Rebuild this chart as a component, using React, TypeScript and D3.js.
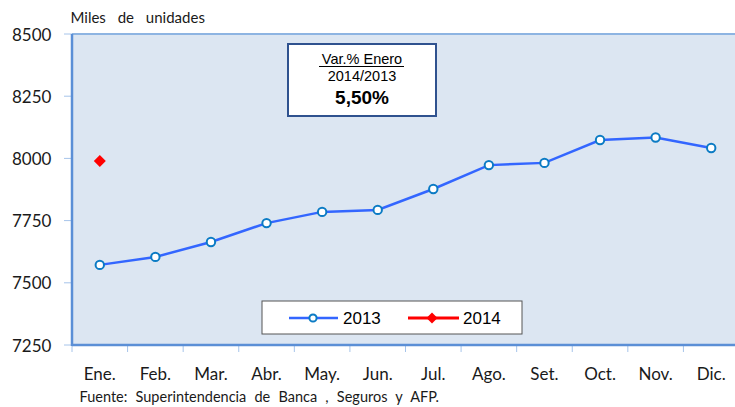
import React from "react";
import * as d3 from "d3";

const months = ["Ene.", "Feb.", "Mar.", "Abr.", "May.", "Jun.", "Jul.", "Ago.", "Set.", "Oct.", "Nov.", "Dic."];
const values2013 = [7572, 7604, 7664, 7740, 7785, 7793, 7877, 7973, 7982, 8074, 8084, 8042];
const values2014 = [7990];
const yTicks = [7250, 7500, 7750, 8000, 8250, 8500];

const W = 735;
const H = 407;
const plot = { left: 72, top: 34, right: 739, bottom: 345 };
const FONT = "Lato, 'Open Sans', sans-serif";
const ARIAL = "'Liberation Sans', Arial, sans-serif";

function Diamond({ x, y, r }: { x: number; y: number; r: number }) {
  return <path d={`M${x},${y - r}L${x + r},${y}L${x},${y + r}L${x - r},${y}Z`} fill="#ff0000" />;
}

export default function App() {
  const x = d3.scaleBand<string>().domain(months).range([plot.left, plot.right]);
  const y = d3.scaleLinear().domain([7250, 8500]).range([plot.bottom, plot.top]);
  const cx = (i: number) => (x(months[i]) as number) + x.bandwidth() / 2;
  const line = d3
    .line<number>()
    .x((_, i) => cx(i))
    .y((d) => y(d));

  return (
    <svg width={W} height={H} style={{ position: "absolute", left: 0, top: 0 }}>
      <rect x={0} y={0} width={W} height={H} fill="#ffffff" />
      <rect x={plot.left} y={plot.top} width={plot.right - plot.left} height={plot.bottom - plot.top} fill="#dce6f2" />
      <line x1={plot.left} x2={plot.right} y1={plot.top} y2={plot.top} stroke="#8db4e2" strokeWidth={2} />
      {yTicks.map((t) => (
        <g key={t}>
          <line x1={64} x2={plot.left} y1={y(t)} y2={y(t)} stroke="#a6c4ea" strokeWidth={1} />
          <text x={12} y={y(t) + 6.5} fontFamily={FONT} fontSize={17} fill="#1a1a1a">
            {t}
          </text>
        </g>
      ))}
      {months.map((m) => (
        <line key={m} x1={x(m)} x2={x(m)} y1={plot.bottom} y2={plot.bottom + 7} stroke="#a6c4ea" strokeWidth={1} />
      ))}
      <line x1={plot.left} x2={plot.left} y1={plot.top} y2={plot.bottom + 1} stroke="#5b8fd6" strokeWidth={2.5} />
      <line x1={plot.left} x2={plot.right} y1={plot.bottom} y2={plot.bottom} stroke="#5b8fd6" strokeWidth={2.5} />
      {months.map((m, i) => (
        <text key={m} x={cx(i)} y={380} textAnchor="middle" fontFamily={FONT} fontSize={17} fill="#1a1a1a">
          {m}
        </text>
      ))}
      <path d={line(values2013) as string} fill="none" stroke="#3366ff" strokeWidth={2.5} />
      {values2013.map((v, i) => (
        <circle key={i} cx={cx(i)} cy={y(v)} r={4.2} fill="#ffffff" stroke="#0b7bc4" strokeWidth={2} />
      ))}
      {values2014.map((v, i) => (
        <Diamond key={i} x={cx(i)} y={y(v)} r={6} />
      ))}
      {/* annotation box */}
      <rect x={288} y={44} width={148} height={72} fill="#ffffff" stroke="#2f528f" strokeWidth={2} />
      <text x={362} y={64} textAnchor="middle" fontFamily={ARIAL} fontSize={14.5} fill="#000">
        Var.% Enero
      </text>
      <line x1={319} x2={404} y1={66.5} y2={66.5} stroke="#000" strokeWidth={1} />
      <text x={362} y={80.5} textAnchor="middle" fontFamily={ARIAL} fontSize={14.5} fill="#000">
        2014/2013
      </text>
      <text x={362} y={103.5} textAnchor="middle" fontFamily={ARIAL} fontSize={19} fontWeight="bold" fill="#000">
        5,50%
      </text>
      {/* legend */}
      <rect x={262} y={301} width={260} height={33} fill="#ffffff" stroke="#555555" strokeWidth={1} />
      <line x1={289} x2={338} y1={318} y2={318} stroke="#3366ff" strokeWidth={2.5} />
      <circle cx={313} cy={318} r={3.6} fill="#ffffff" stroke="#0b7bc4" strokeWidth={2} />
      <text x={343} y={323.5} fontFamily={ARIAL} fontSize={17} fill="#000">
        2013
      </text>
      <line x1={408} x2={459} y1={318} y2={318} stroke="#ff0000" strokeWidth={3} />
      <Diamond x={432} y={318} r={5.5} />
      <text x={463} y={323.5} fontFamily={ARIAL} fontSize={17} fill="#000">
        2014
      </text>
      {/* titles */}
      <text x={70.5} y={22.5} fontFamily={FONT} fontSize={15} fill="#1a1a1a" wordSpacing={8}>
        Miles de unidades
      </text>
      <text x={79.5} y={401.5} fontFamily={FONT} fontSize={14.5} fill="#1a1a1a" wordSpacing={4.5}>
        Fuente: Superintendencia de Banca , Seguros y AFP.
      </text>
    </svg>
  );
}
